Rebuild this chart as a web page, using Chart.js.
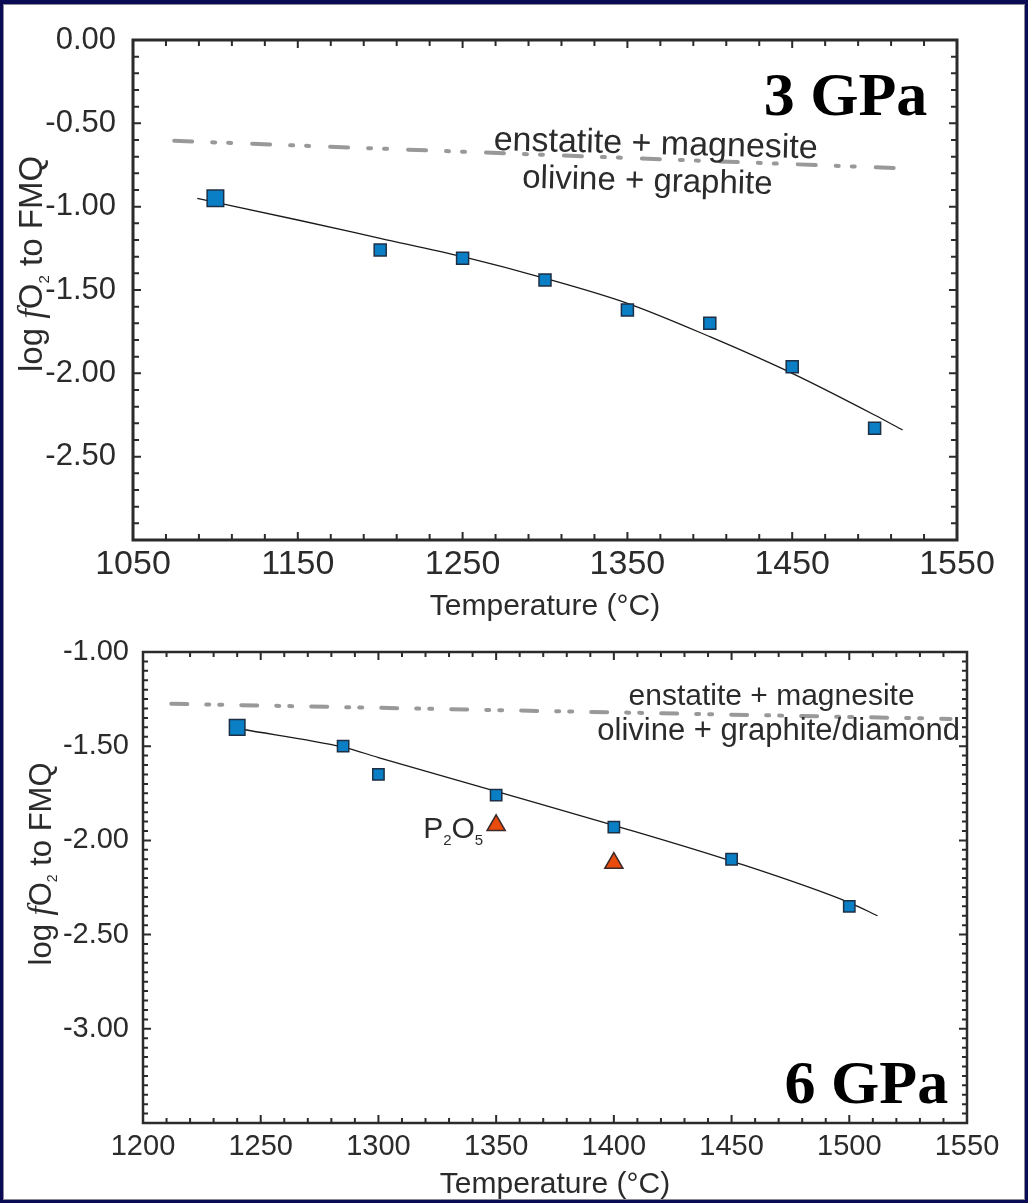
<!DOCTYPE html>
<html>
<head>
<meta charset="utf-8">
<script src="https://cdn.jsdelivr.net/npm/chart.js@4.4.1/dist/chart.umd.min.js"></script>
<style>
html, body { margin: 0; padding: 0; background: #fff; }
#page { position: relative; width: 1028px; height: 1203px; overflow: hidden; background: #fff; }
#c1 { position: absolute; left: 0; top: 0; }
#c2 { position: absolute; left: 0; top: 620px; }
#frame { position: absolute; left: 0; top: 0; width: 1028px; height: 1203px; box-sizing: border-box;
         border: 3px solid #0b0b55; border-top-width: 4px; box-shadow: inset 0 0 0 1px #8a8a9a; pointer-events: none; }
</style>
</head>
<body>
<div id="page">
  <canvas id="c1" width="1028" height="630" style="width:1028px;height:630px"></canvas>
  <canvas id="c2" width="1028" height="583" style="width:1028px;height:583px"></canvas>
  <div id="frame"></div>
</div>
<script>
// ---- 3 GPa ----
const temp3  = [1100, 1200, 1250, 1300, 1350, 1400, 1450, 1500];
const fo2_3  = [-0.95, -1.26, -1.31, -1.44, -1.62, -1.70, -1.96, -2.33];
const fitT3  = [1089, 1150, 1200, 1250, 1300, 1350, 1400, 1450, 1500, 1517];
const fitY3  = [-0.95, -1.08, -1.19, -1.30, -1.43, -1.58, -1.78, -2.00, -2.25, -2.34];
const emT3   = [1075, 1517];
const emY3   = [-0.605, -0.77];

// ---- 6 GPa ----
const temp6  = [1240, 1285, 1300, 1350, 1400, 1450, 1500];
const fo2_6  = [-1.40, -1.50, -1.65, -1.76, -1.93, -2.10, -2.35];
const tempP  = [1350, 1400];
const fo2_P  = [-1.92, -2.12];
const fitT6  = [1242, 1285, 1300, 1350, 1400, 1450, 1500, 1512];
const fitY6  = [-1.41, -1.505, -1.56, -1.74, -1.92, -2.11, -2.33, -2.40];
const emT6   = [1212, 1543];
const emY6   = [-1.275, -1.355];

const SANS = '"Liberation Sans", Arial, sans-serif';
const SERIF = '"Liberation Serif", "Times New Roman", serif';
const INK = '#2b2b2b';

const pts = (xs, ys) => xs.map((v, i) => ({ x: v, y: ys[i] }));

// draws a run of text pieces (for italic f / subscripts)
function drawParts(ctx, parts, x, y, align, rot) {
  ctx.save();
  ctx.translate(x, y);
  if (rot) ctx.rotate(rot);
  let w = 0;
  parts.forEach(p => { ctx.font = p.f; w += ctx.measureText(p.t).width; });
  let cx = align === 'center' ? -w / 2 : align === 'right' ? -w : 0;
  ctx.textBaseline = 'alphabetic';
  ctx.textAlign = 'left';
  parts.forEach(p => {
    ctx.font = p.f;
    ctx.fillStyle = p.c || INK;
    ctx.fillText(p.t, cx, p.dy || 0);
    cx += ctx.measureText(p.t).width;
  });
  ctx.restore();
}

const decor = {
  id: 'decor',
  afterDraw(chart, args, o) {
    const { ctx, chartArea: a, scales: { x, y } } = chart;
    ctx.save();
    ctx.strokeStyle = INK;
    ctx.lineWidth = o.tickWidth;
    let n = Math.round((x.max - x.min) / o.xStep);
    for (let i = 0; i <= n; i++) {
      const px = x.getPixelForValue(x.min + i * o.xStep);
      const len = i % o.xMajor === 0 ? o.majorLen : o.minorLen;
      ctx.beginPath();
      ctx.moveTo(px, a.bottom); ctx.lineTo(px, a.bottom - len);
      ctx.moveTo(px, a.top); ctx.lineTo(px, a.top + len);
      ctx.stroke();
    }
    n = Math.round((y.max - y.min) / o.yStep);
    for (let i = 0; i <= n; i++) {
      const py = y.getPixelForValue(y.max - i * o.yStep);
      const len = i % o.yMajor === 0 ? o.majorLen : o.minorLen;
      ctx.beginPath();
      ctx.moveTo(a.left, py); ctx.lineTo(a.left + len, py);
      ctx.moveTo(a.right, py); ctx.lineTo(a.right - len, py);
      ctx.stroke();
    }
    ctx.lineWidth = o.boxWidth;
    ctx.strokeRect(a.left, a.top, a.right - a.left, a.bottom - a.top);
    ctx.restore();

    // axis titles (canvas pixels)
    drawParts(ctx, [{ t: 'Temperature (°C)', f: o.xTitle.size + 'px ' + SANS }],
      o.xTitle.x, o.xTitle.y, 'center', 0);
    const s = o.yTitle.size;
    drawParts(ctx, [
      { t: 'log ', f: s + 'px ' + SANS },
      { t: 'f', f: 'italic ' + (s + 2) + 'px ' + SERIF },
      { t: 'O', f: s + 'px ' + SANS },
      { t: '2', f: Math.round(s * 0.45) + 'px ' + SANS, dy: s * 0.2 },
      { t: ' to FMQ', f: s + 'px ' + SANS }
    ], o.yTitle.x, o.yTitle.y, 'center', -Math.PI / 2);

    // notes in data coordinates
    o.notes.forEach(nt => {
      drawParts(ctx, nt.parts, x.getPixelForValue(nt.x), y.getPixelForValue(nt.y), nt.align, nt.rot || 0);
    });
  }
};

function makeChart(id, cfg) {
  return new Chart(document.getElementById(id), {
    type: 'scatter',
    data: { datasets: cfg.datasets },
    options: {
      responsive: false,
      animation: false,
      layout: { padding: cfg.pad },
      plugins: { legend: { display: false }, tooltip: { enabled: false }, decor: cfg.decor },
      scales: {
        x: {
          type: 'linear', min: cfg.xMin, max: cfg.xMax,
          grid: { display: false }, border: { display: false },
          ticks: { stepSize: cfg.xStep, color: INK, padding: cfg.xPad, font: { family: SANS, size: cfg.xFont },
                   callback: v => String(v) },
          afterFit: s => { s.height = cfg.xH; }
        },
        y: {
          type: 'linear', min: cfg.yMin, max: cfg.yMax,
          grid: { display: false }, border: { display: false },
          ticks: {
            stepSize: 0.5, color: INK, padding: cfg.yPad, font: { family: SANS, size: cfg.yFont },
            callback: v => (Math.abs(v - cfg.yMin) < 1e-6 ? '' : Number(v).toFixed(2))
          },
          afterFit: s => { s.width = cfg.yW; }
        }
      }
    },
    plugins: [decor]
  });
}

const sq = { backgroundColor: '#0b7fc6', borderColor: '#1d2f44', borderWidth: 1.5, pointStyle: 'rect', showLine: false };
const tri = { backgroundColor: '#e84b0c', borderColor: '#3a2a2a', borderWidth: 1.5, pointStyle: 'triangle', showLine: false };
const fitStyle = { showLine: true, borderColor: '#1a1a1a', borderWidth: 1.3, pointRadius: 0, cubicInterpolationMode: 'monotone' };

makeChart('c1', {
  xMin: 1050, xMax: 1550, xStep: 100, yMin: -3, yMax: 0,
  pad: { left: 0, top: 40, right: 71, bottom: 0 },
  xH: 90, yW: 133, xPad: -4, yPad: 9, xFont: 34, yFont: 31,
  datasets: [
    Object.assign({ data: pts(temp3, fo2_3), pointRadius: temp3.map((t, i) => i === 0 ? 11.7 : 8.5) }, sq),
    Object.assign({ data: pts(fitT3, fitY3) }, fitStyle),
    { data: pts(emT3, emY3), showLine: true, pointRadius: 0, borderColor: '#999999', borderWidth: 4,
      borderCapStyle: 'round', borderDash: [18, 20, 3, 13, 3, 21] }
  ],
  decor: {
    xStep: 20, xMajor: 5, yStep: 0.1, yMajor: 5, minorLen: 6, majorLen: 8, tickWidth: 2, boxWidth: 3,
    xTitle: { x: 545, y: 615, size: 30 },
    yTitle: { x: 42, y: 264, size: 33 },
    notes: [
      { parts: [{ t: 'enstatite + magnesite', f: '34px ' + SANS }], x: 1367, y: -0.685, align: 'center', rot: 0.026 },
      { parts: [{ t: 'olivine + graphite', f: '33px ' + SANS }], x: 1362, y: -0.905, align: 'center', rot: 0.026 },
      { parts: [{ t: '3 GPa', f: 'bold 62px ' + SERIF, c: '#000' }], x: 1532, y: -0.449, align: 'right' }
    ]
  }
});

makeChart('c2', {
  xMin: 1200, xMax: 1550, xStep: 50, yMin: -3.5, yMax: -1,
  pad: { left: 0, top: 32, right: 61, bottom: 0 },
  xH: 80, yW: 143, xPad: -1, yPad: 6, xFont: 29, yFont: 29,
  datasets: [
    Object.assign({ data: pts(tempP, fo2_P), pointRadius: 10.5 }, tri),
    Object.assign({ data: pts(temp6, fo2_6), pointRadius: temp6.map((t, i) => i === 0 ? 11 : 8) }, sq),
    Object.assign({ data: pts(fitT6, fitY6) }, fitStyle),
    { data: pts(emT6, emY6), showLine: true, pointRadius: 0, borderColor: '#999999', borderWidth: 4,
      borderCapStyle: 'round', borderDash: [16, 19, 3, 10, 3, 19] }
  ],
  decor: {
    xStep: 10, xMajor: 5, yStep: 0.05, yMajor: 10, minorLen: 5, majorLen: 8, tickWidth: 2, boxWidth: 2.5,
    xTitle: { x: 555, y: 573, size: 30 },
    yTitle: { x: 51, y: 244, size: 31 },
    notes: [
      { parts: [{ t: 'enstatite + magnesite', f: '30px ' + SANS }], x: 1467, y: -1.281, align: 'center' },
      { parts: [{ t: 'olivine + graphite/diamond', f: '31px ' + SANS }], x: 1470, y: -1.467, align: 'center' },
      { parts: [{ t: '6 GPa', f: 'bold 62px ' + SERIF, c: '#000' }], x: 1542, y: -3.394, align: 'right' },
      { parts: [
          { t: 'P', f: '30px ' + SANS }, { t: '2', f: '15px ' + SANS, dy: 7 },
          { t: 'O', f: '30px ' + SANS }, { t: '5', f: '15px ' + SANS, dy: 7 }
        ], x: 1319, y: -1.987, align: 'left' }
    ]
  }
});
</script>
</body>
</html>
